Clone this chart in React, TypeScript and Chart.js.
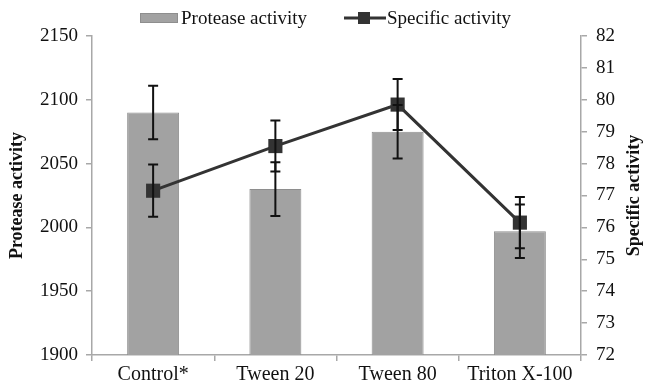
import React, { useEffect, useRef } from "react";
import { Chart, registerables } from "chart.js";

Chart.register(...registerables);

const categories = ["Control*", "Tween 20", "Tween 80", "Triton X-100"];
const proteaseActivity = [2090, 2030, 2075, 1997];
const proteaseError = [21, 21, 21, 21];
const specificActivity = [77.15, 78.55, 79.85, 76.15];
const specificError = [0.82, 0.8, 0.8, 0.8];
const leftTicks = [1900, 1950, 2000, 2050, 2100, 2150];
const rightTicks = [72, 73, 74, 75, 76, 77, 78, 79, 80, 81, 82];

const FONT = '"Liberation Serif", "Times New Roman", serif';
const AXIS_COLOR = "#a8a8a8";
const BAR_COLOR = "#a2a2a2";
const BAR_BORDER = "#8e8e8e";
const LINE_COLOR = "#333333";

const errorBarsPlugin = {
  id: "errorBars",
  afterDatasetsDraw(chart: any) {
    const ctx = chart.ctx;
    const yL = chart.scales.y;
    const yR = chart.scales.y1;
    const barMeta = chart.getDatasetMeta(0);
    const lineMeta = chart.getDatasetMeta(1);
    ctx.save();
    ctx.strokeStyle = "#111111";
    ctx.lineWidth = 2;
    const cap = 5;
    const draw = (px: number, lo: number, hi: number) => {
      ctx.beginPath();
      ctx.moveTo(px, lo);
      ctx.lineTo(px, hi);
      ctx.moveTo(px - cap, lo);
      ctx.lineTo(px + cap, lo);
      ctx.moveTo(px - cap, hi);
      ctx.lineTo(px + cap, hi);
      ctx.stroke();
    };
    categories.forEach((_, i) => {
      const bx = barMeta.data[i].x;
      draw(
        bx,
        yL.getPixelForValue(proteaseActivity[i] - proteaseError[i]),
        yL.getPixelForValue(proteaseActivity[i] + proteaseError[i])
      );
      const lx = lineMeta.data[i].x;
      draw(
        lx,
        yR.getPixelForValue(specificActivity[i] - specificError[i]),
        yR.getPixelForValue(specificActivity[i] + specificError[i])
      );
    });
    ctx.restore();
  },
};

const legendPlugin = {
  id: "customLegend",
  afterDraw(chart: any) {
    const ctx = chart.ctx;
    const cy = 18;
    ctx.save();
    ctx.font = `19px ${FONT}`;
    ctx.textBaseline = "middle";
    ctx.textAlign = "left";
    ctx.fillStyle = BAR_COLOR;
    ctx.strokeStyle = BAR_BORDER;
    ctx.lineWidth = 1;
    ctx.fillRect(140, cy - 5, 38, 10);
    ctx.strokeRect(140.5, cy - 4.5, 37, 9);
    ctx.fillStyle = "#111111";
    ctx.fillText("Protease activity", 181, cy + 1);
    ctx.strokeStyle = LINE_COLOR;
    ctx.lineWidth = 3;
    ctx.beginPath();
    ctx.moveTo(344, cy);
    ctx.lineTo(386, cy);
    ctx.stroke();
    ctx.fillStyle = LINE_COLOR;
    ctx.fillRect(358, cy - 6, 12, 12);
    ctx.fillStyle = "#111111";
    ctx.fillText("Specific activity", 387, cy + 1);

    // right axis title, reading bottom-to-top
    const area = chart.chartArea;
    ctx.font = `bold 18px ${FONT}`;
    ctx.textAlign = "center";
    ctx.translate(634, (area.top + area.bottom) / 2);
    ctx.rotate(-Math.PI / 2);
    ctx.fillText("Specific activity", 0, 0);
    ctx.restore();
  },
};

export default function App() {
  const canvasRef = useRef<HTMLCanvasElement | null>(null);

  useEffect(() => {
    if (!canvasRef.current) return;
    const chart = new Chart(canvasRef.current, {
      type: "bar",
      data: {
        labels: categories,
        datasets: [
          {
            type: "bar",
            label: "Protease activity",
            data: proteaseActivity,
            backgroundColor: BAR_COLOR,
            borderColor: BAR_BORDER,
            borderWidth: 1,
            barPercentage: 0.425,
            categoryPercentage: 1,
            yAxisID: "y",
            order: 2,
          },
          {
            type: "line",
            label: "Specific activity",
            data: specificActivity,
            borderColor: LINE_COLOR,
            backgroundColor: LINE_COLOR,
            borderWidth: 3,
            pointStyle: "rect",
            pointRadius: 10,
            pointBackgroundColor: LINE_COLOR,
            pointBorderColor: LINE_COLOR,
            pointBorderWidth: 0,
            yAxisID: "y1",
            order: 1,
          } as any,
        ],
      },
      options: {
        responsive: true,
        maintainAspectRatio: false,
        animation: false,
        layout: { padding: { top: 36, left: 0, right: 0, bottom: 0 } },
        plugins: {
          legend: { display: false },
          tooltip: { enabled: false },
        },
        scales: {
          x: {
            offset: true,
            grid: {
              offset: true,
              drawOnChartArea: false,
              drawTicks: true,
              tickLength: 6,
              color: AXIS_COLOR,
              lineWidth: 1.5,
            },
            border: { color: AXIS_COLOR, width: 1.5 },
            ticks: {
              color: "#111111",
              font: { family: FONT, size: 20 },
              padding: 2,
              maxRotation: 0,
            },
            afterFit: (s: any) => {
              s.height = 32;
            },
          },
          y: {
            position: "left",
            min: 1900,
            max: 2150,
            afterBuildTicks: (s: any) => {
              s.ticks = leftTicks.map((v) => ({ value: v }));
            },
            grid: {
              drawOnChartArea: false,
              drawTicks: true,
              tickLength: 6,
              color: AXIS_COLOR,
              lineWidth: 1.5,
            },
            border: { color: AXIS_COLOR, width: 1.5 },
            ticks: {
              color: "#111111",
              font: { family: FONT, size: 19 },
              padding: 8,
              callback: (v: any) => String(v),
            },
            title: {
              display: true,
              text: "Protease activity",
              color: "#111111",
              font: { family: FONT, size: 18, weight: "bold" },
              padding: { top: 7, bottom: 0 },
            },
            afterFit: (s: any) => {
              s.width = 92;
            },
          },
          y1: {
            position: "right",
            min: 72,
            max: 82,
            afterBuildTicks: (s: any) => {
              s.ticks = rightTicks.map((v) => ({ value: v }));
            },
            grid: {
              drawOnChartArea: false,
              drawTicks: true,
              tickLength: 6,
              color: AXIS_COLOR,
              lineWidth: 1.5,
            },
            border: { color: AXIS_COLOR, width: 1.5 },
            ticks: {
              color: "#111111",
              font: { family: FONT, size: 19 },
              padding: 9,
              callback: (v: any) => String(v),
            },
            title: { display: false },
            afterFit: (s: any) => {
              s.width = 64;
            },
          },
        },
      },
      plugins: [errorBarsPlugin, legendPlugin],
    });
    return () => chart.destroy();
  }, []);

  return (
    <div
      style={{
        position: "fixed",
        left: 0,
        top: 0,
        width: 645,
        height: 387,
        background: "#ffffff",
      }}
    >
      <canvas ref={canvasRef} />
    </div>
  );
}
